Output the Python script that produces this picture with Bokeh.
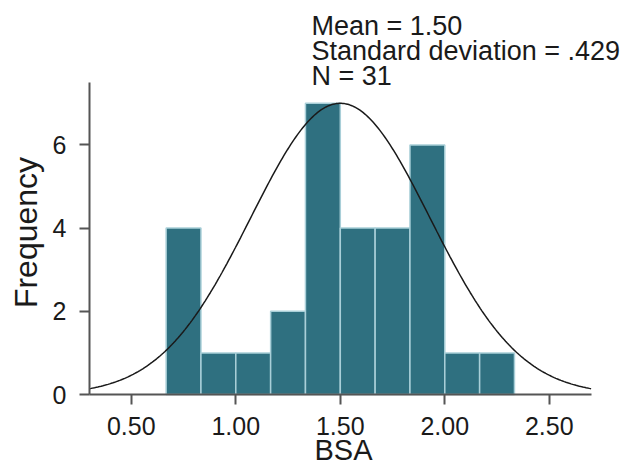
import math
import numpy as np
from bokeh.plotting import figure
from bokeh.models import Label, FixedTicker, ColumnDataSource
from bokeh.embed import file_html
from bokeh.resources import INLINE

# Histogram data (BSA)
bin_edges = [0.6667, 0.8333, 1.0, 1.1667, 1.3333, 1.5, 1.6667, 1.8333, 2.0, 2.1667, 2.3333]
counts = [4, 1, 1, 2, 7, 4, 4, 6, 1, 1]

# Fitted normal curve parameters
mean_bsa = 1.50
sd_bsa = 0.429
n_obs = 31
curve_peak = 7.0

x_ticks = [0.5, 1.0, 1.5, 2.0, 2.5]
x_tick_labels = ["0.50", "1.00", "1.50", "2.00", "2.50"]
y_ticks = [0, 2, 4, 6]

FONT = "Liberation Sans"
BAR = "#2f7080"
AXIS = "#555555"
TXT = "#1a1a1a"

W, H = 625, 467
# axis extents and pixel anchors (layout)
x0, x1 = 0.3, 2.7
y0, y1 = 0.0, 7.5
ax_left_px, ax_bottom_px = 89, 394
px_per_x = 209.0
px_per_y = 41.6
xr_start = x0 - ax_left_px / px_per_x
xr_end = xr_start + W / px_per_x
yr_start = y0 - (H - ax_bottom_px) / px_per_y
yr_end = yr_start + H / px_per_y

p = figure(width=W, height=H, x_range=(xr_start, xr_end), y_range=(yr_start, yr_end),
           output_backend="svg", toolbar_location=None,
           min_border_left=0, min_border_right=0, min_border_top=0, min_border_bottom=0)
p.outline_line_color = None
p.grid.grid_line_color = None
p.background_fill_color = "white"
p.border_fill_color = "white"

src = ColumnDataSource(dict(left=bin_edges[:-1], right=bin_edges[1:], top=counts,
                            bottom=[0] * len(counts)))
p.quad(left="left", right="right", top="top", bottom="bottom", source=src,
       fill_color=BAR, line_color="#a9cfd8", line_width=1.5)

xs = np.linspace(x0, x1, 300)
ys = curve_peak * np.exp(-0.5 * ((xs - mean_bsa) / sd_bsa) ** 2)
p.line(xs, ys, line_color=TXT, line_width=1.5)

for ax in (p.xaxis[0], p.yaxis[0]):
    ax.axis_line_color = AXIS
    ax.axis_line_width = 2
    ax.major_tick_line_color = AXIS
    ax.major_tick_line_width = 2
    ax.major_tick_out = 10
    ax.major_tick_in = 0
    ax.minor_tick_line_color = None
    ax.major_label_text_font = FONT
    ax.major_label_text_font_size = "25px"
    ax.major_label_text_color = TXT

p.xaxis.fixed_location = y0
p.yaxis.fixed_location = x0
p.xaxis.bounds = (x0, x1)
p.yaxis.bounds = (y0, y1)
p.xaxis.ticker = FixedTicker(ticks=x_ticks)
p.xaxis.major_label_overrides = {t: l for t, l in zip(x_ticks, x_tick_labels)}
p.yaxis.ticker = FixedTicker(ticks=y_ticks)
p.xaxis.major_label_standoff = 12
p.yaxis.major_label_standoff = 13

SHIFT = 8  # baseline correction for Label rendering

# axis titles
p.add_layout(Label(x=343, y=H - 457 + SHIFT, x_units="screen", y_units="screen", text="BSA",
                   text_font=FONT, text_font_size="29px", text_color=TXT,
                   text_align="center", text_baseline="alphabetic"))
p.add_layout(Label(x=34 - SHIFT - 1, y=H - 232, x_units="screen", y_units="screen", text="Frequency",
                   angle=math.pi / 2, text_font=FONT, text_font_size="32px", text_color=TXT,
                   text_align="center", text_baseline="alphabetic"))

stats = [f"Mean = {mean_bsa:.2f}", f"Standard deviation = .{int(round(sd_bsa*1000))}", f"N = {n_obs}"]
for i, t in enumerate(stats):
    p.add_layout(Label(x=311, y=H - 33 - i * 25 + SHIFT, x_units="screen", y_units="screen", text=t,
                       text_font=FONT, text_font_size="27px", text_color=TXT,
                       text_baseline="alphabetic"))

open("out.html", "w").write(file_html(p, INLINE))
